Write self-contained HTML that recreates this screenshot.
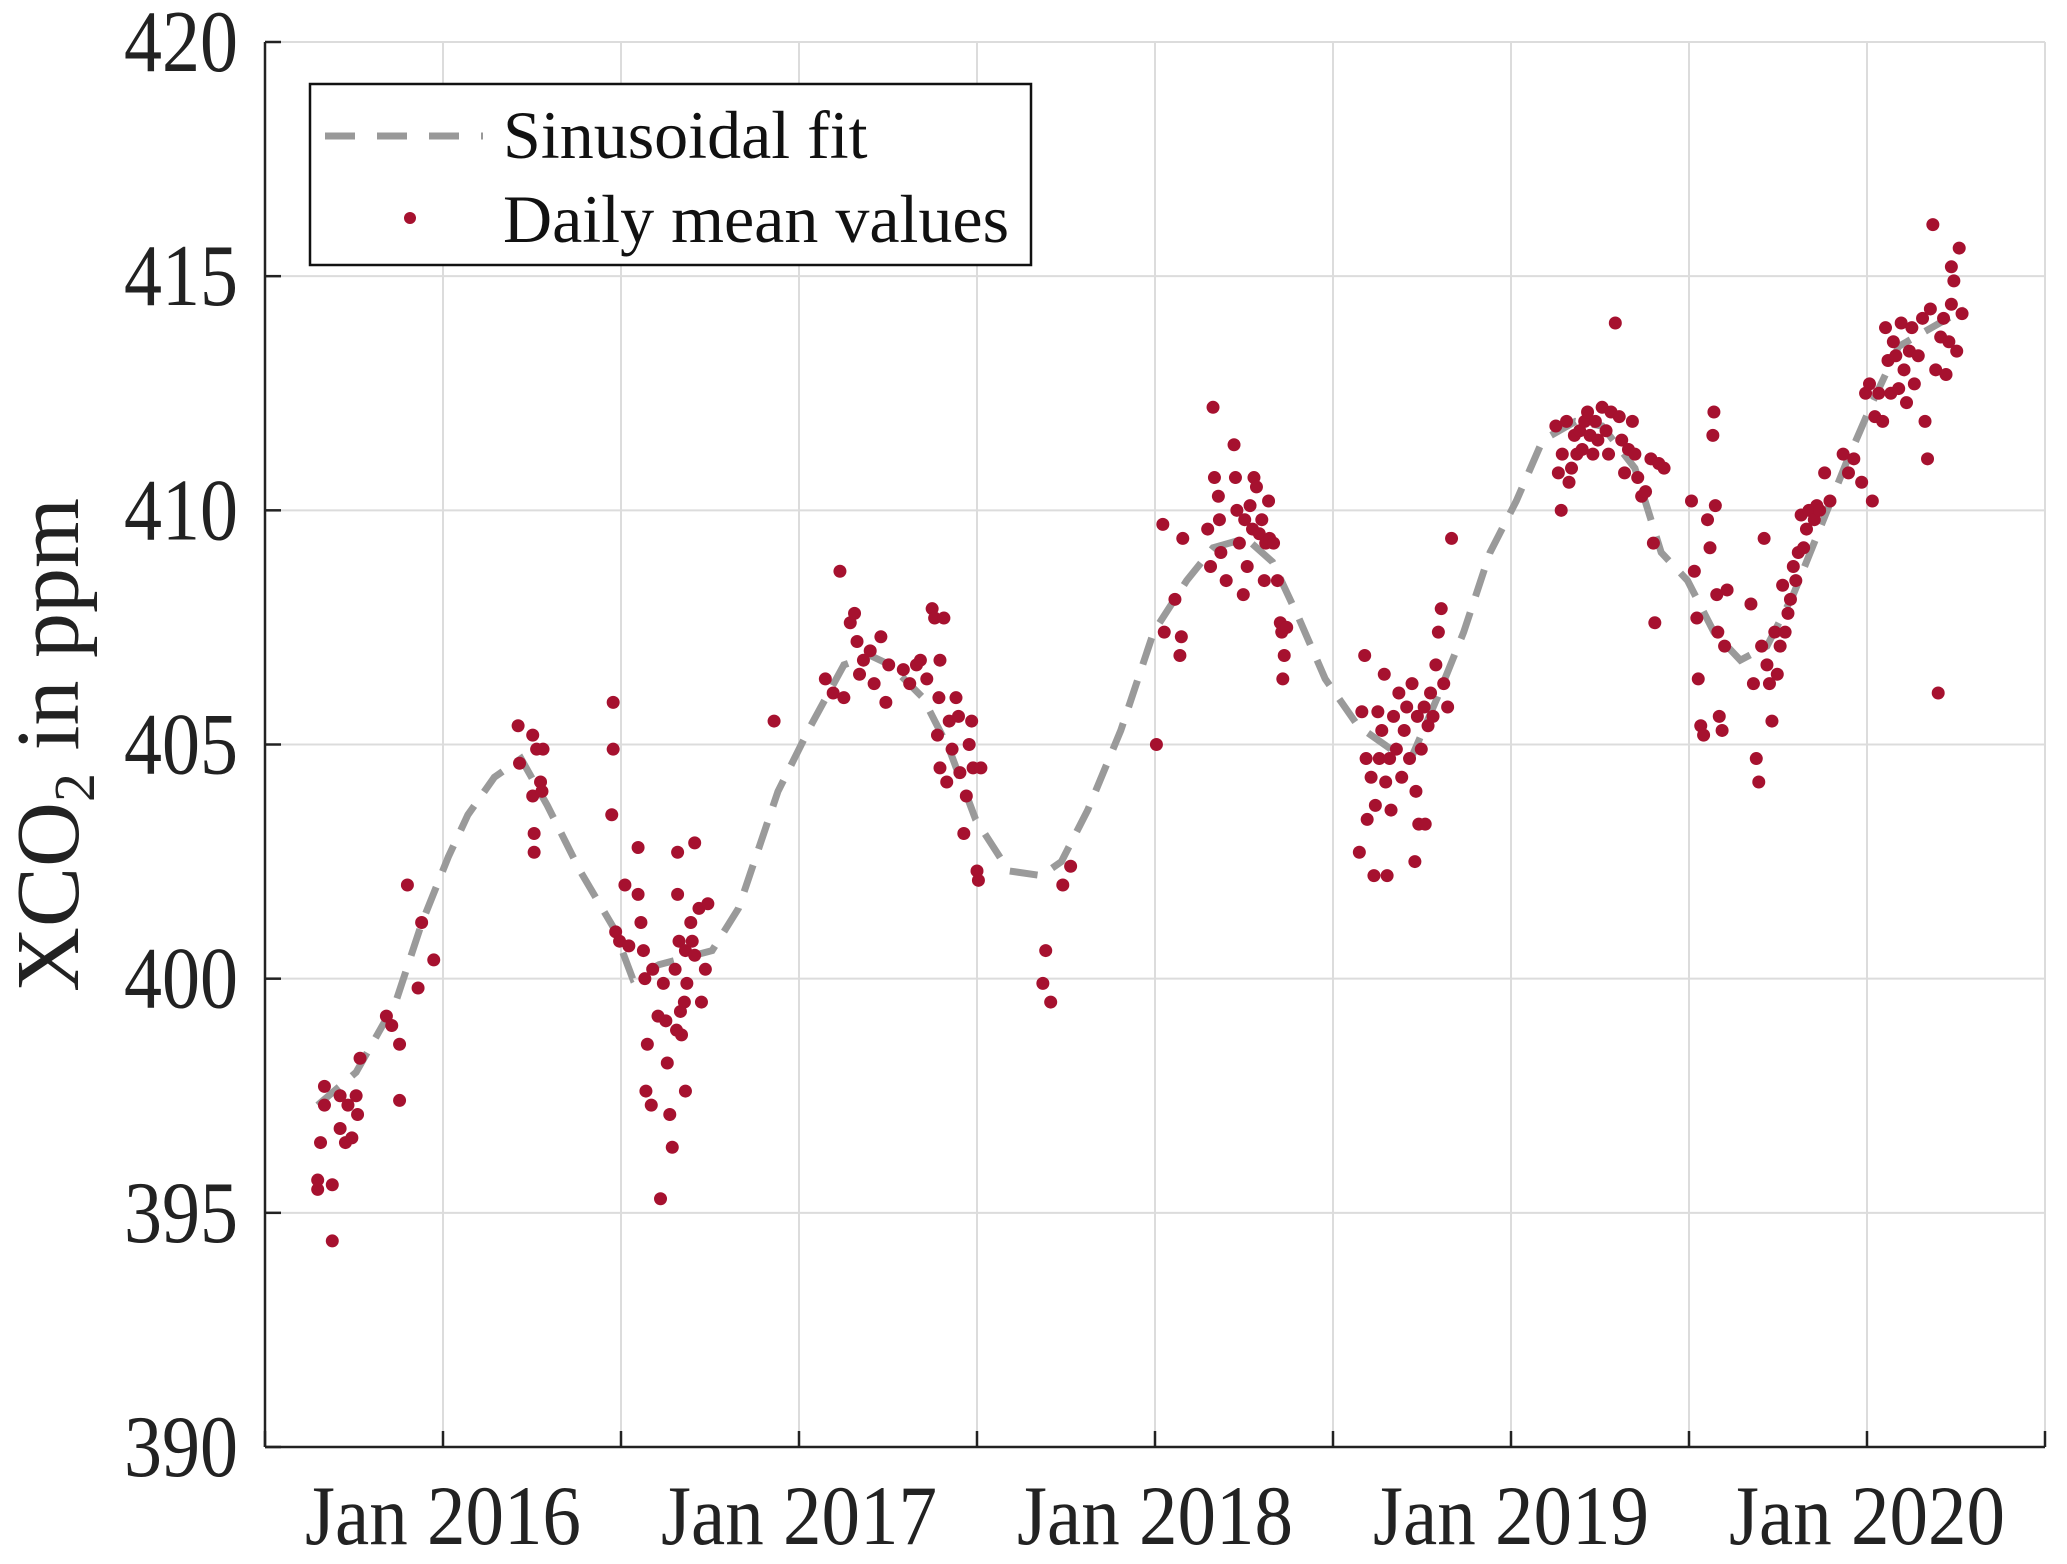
<!DOCTYPE html>
<html><head><meta charset="utf-8">
<style>
html,body{margin:0;padding:0;background:#fff;}
svg{display:block;font-family:"Liberation Serif",serif;}
</style></head>
<body>
<svg id="chart" width="2067" height="1564" viewBox="0 0 2067 1564" xmlns="http://www.w3.org/2000/svg">
<g id="grid"></g>
<g id="fit"></g>
<g id="dots"></g>
<g id="axes"></g>
<text transform="translate(78,745) rotate(-90)" text-anchor="middle" font-size="90" fill="#222">XCO<tspan font-size="58" dy="16">2</tspan><tspan dy="-16"> in ppm</tspan></text>
<g>
<rect x="310" y="84" width="721" height="181" fill="#fff" stroke="#111" stroke-width="2.5"/>
<line x1="325" y1="136" x2="483" y2="136" stroke="#999" stroke-width="7" stroke-dasharray="30,22"/>
<text x="503" y="158" font-size="68" fill="#111">Sinusoidal fit</text>
<circle cx="410" cy="218" r="6" fill="#a6112f"/>
<text x="503" y="242" font-size="68" fill="#111">Daily mean values</text>
</g>
</svg>
<script>
const yTicks = [390,395,400,405,410,415,420];
const xGrid = [2015.5,2016,2016.5,2017,2017.5,2018,2018.5,2019,2019.5,2020,2020.5];
const xLabelYears = [2016,2017,2018,2019,2020];
const xLabels = ["Jan 2016","Jan 2017","Jan 2018","Jan 2019","Jan 2020"];

const fitT = [2015.648,2015.756,2015.867,2015.941,2016.015,2016.07,2016.144,2016.219,2016.293,2016.385,2016.478,2016.533,2016.607,2016.756,2016.83,2016.941,2017.033,2017.126,2017.2,2017.256,2017.348,2017.422,2017.496,2017.589,2017.681,2017.737,2017.811,2017.904,2017.996,2018.089,2018.163,2018.256,2018.33,2018.404,2018.478,2018.57,2018.663,2018.719,2018.793,2018.867,2018.941,2019.015,2019.089,2019.181,2019.256,2019.348,2019.422,2019.496,2019.57,2019.644,2019.719,2019.793,2019.867,2019.941,2020.015,2020.089,2020.274];
const fitV = [397.3,398.0,399.5,401.2,402.6,403.5,404.3,404.7,403.7,402.3,401.1,400.0,400.3,400.6,401.5,404.0,405.4,406.7,406.9,406.7,406.0,404.9,403.4,402.3,402.2,402.5,403.6,405.3,407.4,408.5,409.2,409.4,408.9,407.7,406.4,405.4,404.9,404.7,406.0,407.4,409.1,410.2,411.5,411.9,411.8,410.9,409.1,408.5,407.4,406.8,407.1,408.2,409.6,411.0,412.3,413.5,414.3];

const dotT = [
2015.648,2015.648,2015.656,2015.667,2015.667,2015.689,2015.689,2015.711,2015.711,2015.726,2015.733,2015.744,2015.756,2015.76,2015.767,2015.841,2015.856,2015.878,2015.878,2015.9,2015.93,2015.94,2015.974,
2016.211,2016.215,2016.252,2016.252,2016.256,2016.256,2016.263,2016.274,2016.281,2016.278,
2016.478,2016.478,2016.474,2016.485,2016.496,2016.511,2016.522,2016.548,2016.548,2016.556,2016.563,2016.567,2016.574,2016.57,2016.585,2016.589,2016.611,2016.619,2016.626,2016.63,2016.637,2016.644,2016.652,2016.659,2016.659,2016.663,2016.667,2016.67,2016.681,2016.681,2016.685,2016.696,2016.7,2016.707,2016.707,2016.719,2016.726,2016.737,2016.744,2016.678,2016.656,2016.604,
2016.93,2017.074,2017.115,2017.096,2017.126,2017.144,2017.156,2017.163,2017.17,2017.181,2017.2,2017.211,2017.23,2017.244,2017.252,2017.293,2017.311,2017.33,2017.341,2017.359,2017.374,2017.381,2017.396,2017.407,2017.393,2017.389,2017.396,2017.415,2017.422,2017.43,2017.441,2017.448,2017.452,2017.463,2017.47,2017.478,2017.485,2017.489,2017.5,2017.504,2017.511,
2017.685,2017.693,2017.707,2017.741,2017.763,
2018.004,2018.022,2018.026,2018.056,2018.07,2018.074,2018.078,2018.148,2018.163,2018.156,2018.167,2018.178,2018.181,2018.185,2018.2,2018.222,2018.226,2018.23,2018.237,2018.248,2018.252,2018.259,2018.267,2018.274,2018.278,2018.285,2018.293,2018.3,2018.307,2018.311,2018.319,2018.322,2018.333,2018.344,2018.352,2018.356,2018.363,2018.37,2018.359,
2018.589,2018.574,2018.581,2018.593,2018.596,2018.607,2018.615,2018.619,2018.626,2018.63,2018.637,2018.644,2018.648,2018.652,2018.659,2018.663,2018.67,2018.678,2018.685,2018.693,2018.7,2018.707,2018.715,2018.722,2018.73,2018.733,2018.737,2018.741,2018.748,2018.756,2018.759,2018.767,2018.774,2018.781,2018.789,2018.796,2018.804,2018.811,2018.822,2018.833,
2019.126,2019.133,2019.141,2019.144,2019.156,2019.163,2019.17,2019.178,2019.185,2019.193,2019.2,2019.207,2019.215,2019.222,2019.23,2019.237,2019.244,2019.256,2019.267,2019.274,2019.281,2019.293,2019.304,2019.311,2019.319,2019.33,2019.341,2019.348,2019.356,2019.367,2019.378,2019.393,2019.4,2019.404,2019.415,2019.43,
2019.507,2019.515,2019.522,2019.526,2019.533,2019.541,2019.552,2019.559,2019.567,2019.57,2019.574,2019.578,2019.581,2019.585,2019.593,2019.6,2019.607,2019.674,2019.681,2019.689,2019.696,2019.704,2019.711,2019.719,2019.726,2019.733,2019.741,2019.748,2019.756,2019.763,2019.77,2019.778,2019.785,2019.793,2019.8,2019.807,2019.815,2019.822,2019.83,2019.837,2019.852,2019.859,2019.867,2019.881,2019.896,
2019.933,2019.948,2019.963,2019.985,2019.996,2020.007,2020.015,2020.022,2020.033,2020.044,2020.052,2020.059,2020.067,2020.074,2020.081,2020.089,2020.096,2020.104,2020.111,2020.119,2020.126,2020.133,2020.144,2020.156,2020.163,2020.17,2020.178,2020.185,2020.193,2020.2,2020.207,2020.215,2020.222,2020.23,2020.237,2020.244,2020.252,2020.259,2020.267,2020.237
];
const dotV = [
395.5,395.7,396.5,397.3,397.7,395.6,394.4,397.5,396.8,396.5,397.3,396.6,397.5,397.1,398.3,399.2,399.0,398.6,397.4,402.0,399.8,401.2,400.4,
405.4,404.6,405.2,403.9,403.1,402.7,404.9,404.2,404.9,404.0,
405.9,404.9,403.5,401.0,400.8,402.0,400.7,402.8,401.8,401.2,400.6,400.0,398.6,397.6,397.3,400.2,395.3,399.9,399.1,398.2,397.1,396.4,400.2,401.8,402.7,400.8,399.3,398.8,400.6,397.6,399.9,401.2,400.8,402.9,400.5,401.5,399.5,400.2,401.6,399.5,398.9,399.2,
405.5,406.4,408.7,406.1,406.0,407.6,407.8,407.2,406.5,406.8,407.0,406.3,407.3,405.9,406.7,406.6,406.3,406.7,406.8,406.4,407.9,407.7,406.8,407.7,406.0,405.2,404.5,404.2,405.5,404.9,406.0,405.6,404.4,403.1,403.9,405.0,405.5,404.5,402.3,402.1,404.5,
399.9,400.6,399.5,402.0,402.4,
405.0,409.7,407.4,408.1,406.9,407.3,409.4,409.6,412.2,408.8,410.7,410.3,409.8,409.1,408.5,411.4,410.7,410.0,409.3,408.2,409.8,408.8,410.1,409.6,410.7,410.5,409.5,409.8,408.5,409.3,410.2,409.4,409.3,408.5,407.6,407.4,406.9,407.5,406.4,
406.9,402.7,405.7,404.7,403.4,404.3,402.2,403.7,405.7,404.7,405.3,406.5,404.2,402.2,404.7,403.6,405.6,404.9,406.1,404.3,405.3,405.8,404.7,406.3,402.5,404.0,405.6,403.3,404.9,405.8,403.3,405.4,406.1,405.6,406.7,407.4,407.9,406.3,405.8,409.4,
411.8,410.8,410.0,411.2,411.9,410.6,410.9,411.6,411.2,411.7,411.3,411.9,412.1,411.6,411.2,411.9,411.5,412.2,411.7,411.2,412.1,414.0,412.0,411.5,410.8,411.3,411.9,411.2,410.7,410.3,410.4,411.1,409.3,407.6,411.0,410.9,
410.2,408.7,407.7,406.4,405.4,405.2,409.8,409.2,411.6,412.1,410.1,408.2,407.4,405.6,405.3,407.1,408.3,408.0,406.3,404.7,404.2,407.1,409.4,406.7,406.3,405.5,407.4,406.5,407.1,408.4,407.4,407.8,408.1,408.8,408.5,409.1,409.9,409.2,409.6,410.0,409.8,410.1,410.0,410.8,410.2,
411.2,410.8,411.1,410.6,412.5,412.7,410.2,412.0,412.5,411.9,413.9,413.2,412.5,413.6,413.3,412.6,414.0,413.0,412.3,413.4,413.9,412.7,413.3,414.1,411.9,411.1,414.3,416.1,413.0,406.1,413.7,414.1,412.9,413.6,414.4,414.9,413.4,415.6,414.2,415.2
];

const NS = "http://www.w3.org/2000/svg";
const L = 265, R = 2045, T = 42, B = 1447;
const xMin = 2015.5, xMax = 2020.5, yMin = 390, yMax = 420;
function xs(t){ return L + (t - xMin) / (xMax - xMin) * (R - L); }
function ys(v){ return B - (v - yMin) / (yMax - yMin) * (B - T); }
function mk(tag, attrs, parent){
  const e = document.createElementNS(NS, tag);
  for (const k in attrs) e.setAttribute(k, attrs[k]);
  parent.appendChild(e); return e;
}
const grid = document.getElementById('grid');
const axes = document.getElementById('axes');
xGrid.forEach(t => {
  const l = mk('line', {x1: xs(t), x2: xs(t), y1: T, y2: B, stroke: '#dcdcdc', 'stroke-width': 2}, grid);
  
  
  const tk = mk('line', {x1: xs(t), x2: xs(t), y1: B, y2: B - 16, stroke: '#222', 'stroke-width': 2.5}, axes);
  
  
});
yTicks.forEach(v => {
  const l = mk('line', {x1: L, x2: R, y1: ys(v), y2: ys(v), stroke: '#dcdcdc', 'stroke-width': 2}, grid);
  
  
  const tk = mk('line', {x1: L, x2: L + 16, y1: ys(v), y2: ys(v), stroke: '#222', 'stroke-width': 2.5}, axes);
  
  
  const tx = mk('text', {x: 0, y: 0, 'text-anchor': 'end', 'font-size': 76, fill: '#222', transform: 'translate(238,' + (ys(v) + 29) + ') scale(1,1.15)'}, axes);
  tx.textContent = String(v);
  
  
});
xLabelYears.forEach((t, i) => {
  const tx = mk('text', {x: 0, y: 0, 'text-anchor': 'middle', 'font-size': 77, fill: '#222', transform: 'translate(' + xs(t) + ',1544) scale(1,1.1)'}, axes);
  tx.textContent = xLabels[i];
  
  
});
const ax1 = mk('line', {x1: L, x2: L, y1: T, y2: B, stroke: '#222', 'stroke-width': 2.5}, axes);


const ax2 = mk('line', {x1: L, x2: R, y1: B, y2: B, stroke: '#222', 'stroke-width': 2.5}, axes);



const pts = fitT.map((t, i) => xs(t).toFixed(1) + ',' + ys(fitV[i]).toFixed(1)).join(' ');
const fl = mk('polyline', {points: pts, fill: 'none', stroke: '#9a9a9a', 'stroke-width': 7, 'stroke-dasharray': '28,17'}, document.getElementById('fit'));



const dg = document.getElementById('dots');
dotT.forEach((t, i) => {
  const c = mk('circle', {cx: xs(t), cy: ys(dotV[i]), r: 6.5, fill: '#a6112f'}, dg);
  
  
});
</script>
</body></html>
